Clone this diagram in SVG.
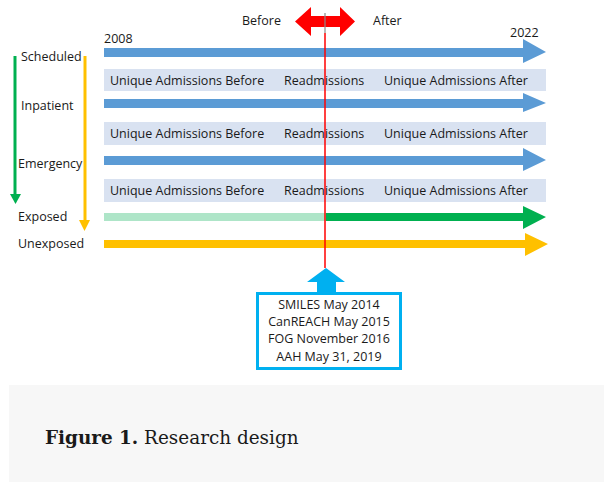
<svg xmlns="http://www.w3.org/2000/svg" width="604" height="482" viewBox="0 0 604 482">
  <style>
    .lbl { font-family: "Open Sans", "Liberation Sans", sans-serif; font-size: 12.5px; fill: #1a1a1a; }
    .band { fill: #d9e2f1; }
    .bandtxt { font-family: "Open Sans", "Liberation Sans", sans-serif; font-size: 12.5px; fill: #1a1a1a; }
    .box { font-family: "Open Sans", "Liberation Sans", sans-serif; font-size: 12.5px; fill: #1a1a1a; text-anchor: middle; }
    .cap { font-family: "DejaVu Serif", "Liberation Serif", serif; font-size: 18.4px; fill: #1a1a1a; }
  </style>

  <rect width="604" height="482" fill="#ffffff"/>

  <!-- Caption panel -->
  <rect x="9" y="385" width="595" height="97" fill="#f7f7f7"/>
  <text class="cap" x="45" y="444"><tspan font-weight="bold">Figure 1.</tspan> Research design</text>

  <!-- Category labels -->
  <g id="labels">
    <text class="lbl" x="21" y="61">Scheduled</text>
    <text class="lbl" x="21" y="110">Inpatient</text>
    <text class="lbl" x="18" y="168">Emergency</text>
    <text class="lbl" x="18" y="221">Exposed</text>
    <text class="lbl" x="18" y="248">Unexposed</text>
    <text class="lbl" x="104" y="43">2008</text>
    <text class="lbl" x="510" y="37">2022</text>
    <text class="lbl" x="242" y="25">Before</text>
    <text class="lbl" x="373" y="25">After</text>
  </g>

  <!-- Admission bands -->
  <g id="band-scheduled">
    <rect class="band" x="104" y="69" width="442" height="22"/>
    <text class="bandtxt" x="110" y="85">Unique Admissions Before</text>
    <text class="bandtxt" x="284" y="85">Readmissions</text>
    <text class="bandtxt" x="384" y="85">Unique Admissions After</text>
  </g>
  <g id="band-inpatient">
    <rect class="band" x="104" y="122" width="442" height="23"/>
    <text class="bandtxt" x="110" y="138">Unique Admissions Before</text>
    <text class="bandtxt" x="284" y="138">Readmissions</text>
    <text class="bandtxt" x="384" y="138">Unique Admissions After</text>
  </g>
  <g id="band-emergency">
    <rect class="band" x="104" y="179" width="442" height="23"/>
    <text class="bandtxt" x="110" y="195">Unique Admissions Before</text>
    <text class="bandtxt" x="284" y="195">Readmissions</text>
    <text class="bandtxt" x="384" y="195">Unique Admissions After</text>
  </g>

  <!-- Connectors: timelines, grouping arrows, intervention marker -->
  <g id="connectors">
    <!-- timelines -->
    <polygon fill="#5b9bd5" points="104,48 523,48 523,39 546,52 523,63 523,57 104,57"/>
    <polygon fill="#5b9bd5" points="104,99 523,99 523,93 546,103 523,112 523,108 104,108"/>
    <polygon fill="#5b9bd5" points="104,156 523,156 523,148 546,160 523,171 523,165 104,165"/>
    <rect x="104" y="213" width="222" height="8" fill="#aee5c8"/>
    <polygon fill="#00b050" points="326,213 523,213 523,206 546,217 523,229 523,221 326,221"/>
    <polygon fill="#ffc000" points="104,240 525,240 525,233 548,244 525,256 525,248 104,248"/>

    <!-- grouping arrows -->
    <line x1="15" y1="56" x2="15" y2="195" stroke="#00b050" stroke-width="3"/>
    <polygon fill="#00b050" points="10,194 21,194 15.5,204"/>
    <line x1="85" y1="56" x2="85" y2="221" stroke="#ffc000" stroke-width="3"/>
    <polygon fill="#ffc000" points="79,220 90,220 84.5,231"/>

    <!-- before / after marker -->
    <polygon fill="#ff0000" points="295,21.5 311,7 311,16 340,16 340,7 355,21.5 340,36 340,27 311,27 311,36"/>
    <line x1="325" y1="13" x2="325" y2="33" stroke="#8a8a8a" stroke-width="1.2"/>
    <line x1="325" y1="33" x2="325" y2="268" stroke="#ff0000" stroke-width="1.5"/>

    <!-- intervention pointer -->
    <polygon fill="#00b0f0" points="326,268 345,282 336,282 336,292 317,292 317,282 307,282"/>
  </g>

  <!-- Intervention dates -->
  <g id="interventions">
    <rect x="257.5" y="293.5" width="143" height="75" fill="#ffffff" stroke="#00b0f0" stroke-width="3"/>
    <text class="box" x="329" y="309">SMILES May 2014</text>
    <text class="box" x="329" y="326">CanREACH May 2015</text>
    <text class="box" x="329" y="343">FOG November 2016</text>
    <text class="box" x="329" y="361">AAH May 31, 2019</text>
  </g>
</svg>
